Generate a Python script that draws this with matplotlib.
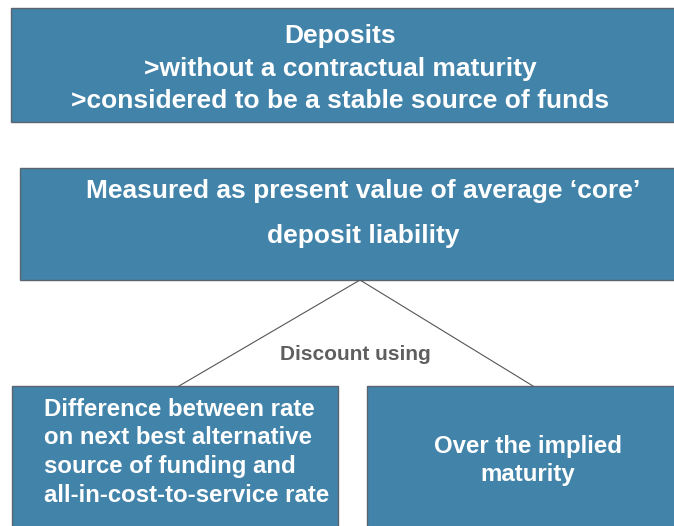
import matplotlib.pyplot as plt
from matplotlib.patches import Rectangle

# texts in the diagram
top_lines = ['Deposits', '>without a contractual maturity', '>considered to be a stable source of funds']
middle_lines = ['Measured as present value of average \u2018core\u2019', 'deposit liability']
link_label = 'Discount using'
left_lines = ['Difference between rate', 'on next best alternative', 'source of funding and', 'all-in-cost-to-service rate']
right_lines = ['Over the implied', 'maturity']

box_color = '#4283aa'
edge_color = '#5b6570'
W, H = 674, 526

plt.rcParams['font.family'] = ['Liberation Sans', 'DejaVu Sans']

fig = plt.figure(figsize=(W / 100, H / 100), dpi=100)
ax = fig.add_axes([0, 0, 1, 1])
ax.set_xlim(0, W)
ax.set_ylim(H, 0)
ax.axis('off')


def box(x0, y0, x1, y1):
    ax.add_patch(Rectangle((x0, y0), x1 - x0, y1 - y0, facecolor=box_color,
                           edgecolor=edge_color, linewidth=1.0))


# boxes
box(10.5, 7.5, W + 5, 121.5)
box(19.5, 167.5, W + 5, 280)
box(11.5, 386, 337.5, H + 5)
box(366.5, 386, W + 5, H + 5)

# connector lines
ax.plot([179, 360, 533], [386, 280, 386], color='#555555', linewidth=0.8)

for text, y in zip(top_lines, [36, 69, 101]):
    ax.text(340, y, text, ha='center', va='center', color='white',
            fontweight='bold', fontsize=19)

for text, y in zip(middle_lines, [191, 236]):
    ax.text(363, y, text, ha='center', va='center', color='white',
            fontweight='bold', fontsize=19)

ax.text(355, 354, link_label, ha='center', va='center', color='#5f5f5f',
        fontweight='bold', fontsize=15)

for text, y in zip(left_lines, [409, 438, 466, 495]):
    ax.text(44, y, text, ha='left', va='center', color='white',
            fontweight='bold', fontsize=17.3)

for text, y in zip(right_lines, [446, 475]):
    ax.text(528, y, text, ha='center', va='center', color='white',
            fontweight='bold', fontsize=17.3)

fig.savefig('out.png', dpi=100)
